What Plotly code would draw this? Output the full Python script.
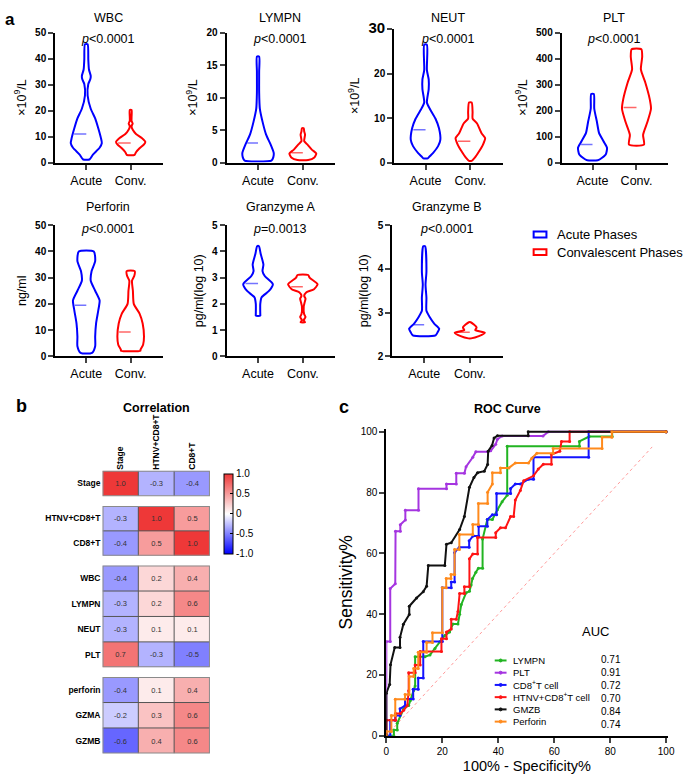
import numpy as np
import plotly.graph_objects as go

W, H = 685, 777
FONT = "Arial, Liberation Sans, sans-serif"
BLUE, RED = "#0000FF", "#FF0000"


def fx(p):
    return p / W


def fy(p):
    return 1 - p / H


# ---------------- DATA : panel a (violin profiles) -------------
GROUPS = ["Acute", "Conv."]
PANEL_TITLES = ["WBC", "LYMPN", "NEUT", "PLT", "Perforin", "Granzyme A", "Granzyme B"]
P_TEXTS = ["<0.0001", "<0.0001", "<0.0001", "<0.0001", "<0.0001", "=0.0013", "<0.0001"]
Y_UNITS = ["×10<sup>9</sup>/L"] * 4 + ["ng/ml", "pg/ml(log 10)", "pg/ml(log 10)"]
Y_TICKS = [[0, 10, 20, 30, 40, 50], [0, 5, 10, 15, 20], [0, 10, 20, 30],
           [0, 100, 200, 300, 400, 500], [0, 10, 20, 30, 40, 50],
           [0, 1, 2, 3, 4, 5], [2, 3, 4, 5]]

WBC_ACUTE_Y = [1.2, 3.1, 5.7, 7.5, 9.4, 13.2, 17, 20.7, 25.8, 30.2, 32, 33.3, 35.8, 39.6, 45.5]
WBC_ACUTE_W = [0.07, 0.15, 0.3, 0.35, 0.33, 0.27, 0.2, 0.1, 0.03, 0.045, 0.09, 0.1, 0.06, 0.045, 0.03]
WBC_CONV_Y = [3, 4, 5.5, 7, 8, 9.5, 11, 12.5, 14, 15, 16, 17.5, 20.2]
WBC_CONV_W = [0.09, 0.12, 0.2, 0.3, 0.33, 0.25, 0.12, 0.05, 0.02, 0.045, 0.02, 0.02, 0.02]
WBC_MED = [11, 7.5]

LYMPN_ACUTE_Y = [0.3, 0.8, 1.5, 2.8, 4.3, 6.3, 8.3, 10.8, 14, 16.3]
LYMPN_ACUTE_W = [0.3, 0.34, 0.35, 0.28, 0.18, 0.1, 0.04, 0.025, 0.025, 0.025]
LYMPN_CONV_Y = [0.4, 0.75, 1.4, 2.0, 2.8, 3.3, 4.3, 4.8, 5.3]
LYMPN_CONV_W = [0.12, 0.25, 0.3, 0.2, 0.1, 0.03, 0.05, 0.03, 0.02]
LYMPN_MED = [3, 1.5]

NEUT_ACUTE_Y = [0.95, 1.5, 2.2, 3.7, 5.1, 7.7, 9.9, 12, 13.5, 16.5, 18.7, 20.8, 26.5]
NEUT_ACUTE_W = [0.05, 0.1, 0.17, 0.28, 0.33, 0.3, 0.22, 0.1, 0.03, 0.07, 0.07, 0.03, 0.03]
NEUT_CONV_Y = [0.4, 1.1, 2.6, 4.0, 5.5, 6.6, 8.8, 9.9, 11.3, 13.5]
NEUT_CONV_W = [0.03, 0.1, 0.2, 0.28, 0.33, 0.25, 0.15, 0.05, 0.05, 0.03]
NEUT_MED = [7.4, 4.8]

PLT_ACUTE_Y = [9, 13, 31, 57, 82, 113, 157, 207, 264]
PLT_ACUTE_W = [0.12, 0.17, 0.3, 0.33, 0.25, 0.15, 0.1, 0.04, 0.03]
PLT_CONV_Y = [69, 107, 157, 207, 245, 308, 358, 408, 436]
PLT_CONV_W = [0.17, 0.15, 0.25, 0.33, 0.3, 0.2, 0.1, 0.13, 0.11]
PLT_MED = [70, 212]

PERF_ACUTE_Y = [1.3, 3.8, 7.5, 12.5, 17.5, 21.3, 25, 28.8, 32.5, 36.3, 40]
PERF_ACUTE_W = [0.13, 0.2, 0.2, 0.22, 0.27, 0.3, 0.2, 0.1, 0.12, 0.2, 0.17]
PERF_CONV_Y = [2.1, 2.5, 4.4, 7.5, 12.5, 16.3, 20, 25, 28.8, 30.6, 32.5]
PERF_CONV_W = [0.22, 0.22, 0.28, 0.3, 0.27, 0.2, 0.07, 0.05, 0.03, 0.08, 0.09]
PERF_MED = [19.5, 9.3]

GZMA_ACUTE_Y = [1.55, 1.6, 2.0, 2.25, 2.5, 2.75, 3.06, 3.25, 3.5, 3.9, 4.2]
GZMA_ACUTE_W = [0.05, 0.05, 0.05, 0.08, 0.25, 0.33, 0.15, 0.1, 0.12, 0.06, 0.02]
GZMA_CONV_Y = [1.3, 1.375, 1.5, 1.6, 1.9, 2.05, 2.2, 2.3, 2.44, 2.56, 2.75, 3.0, 3.1]
GZMA_CONV_W = [0.05, 0.02, 0.06, 0.03, 0.02, 0.04, 0.06, 0.03, 0.08, 0.25, 0.33, 0.15, 0.12]
GZMA_MED = [2.78, 2.65]

GZMB_ACUTE_Y = [2.48, 2.56, 2.63, 2.75, 2.9, 3.04, 3.34, 3.64, 3.94, 4.52]
GZMB_ACUTE_W = [0.25, 0.3, 0.33, 0.22, 0.12, 0.05, 0.05, 0.03, 0.05, 0.02]
GZMB_CONV_Y = [2.41, 2.46, 2.54, 2.6, 2.66, 2.78]
GZMB_CONV_W = [0.03, 0.2, 0.33, 0.12, 0.15, 0.02]
GZMB_MED = [2.72, 2.55]

PROFILES = [
    (WBC_ACUTE_Y, WBC_ACUTE_W, WBC_CONV_Y, WBC_CONV_W, WBC_MED),
    (LYMPN_ACUTE_Y, LYMPN_ACUTE_W, LYMPN_CONV_Y, LYMPN_CONV_W, LYMPN_MED),
    (NEUT_ACUTE_Y, NEUT_ACUTE_W, NEUT_CONV_Y, NEUT_CONV_W, NEUT_MED),
    (PLT_ACUTE_Y, PLT_ACUTE_W, PLT_CONV_Y, PLT_CONV_W, PLT_MED),
    (PERF_ACUTE_Y, PERF_ACUTE_W, PERF_CONV_Y, PERF_CONV_W, PERF_MED),
    (GZMA_ACUTE_Y, GZMA_ACUTE_W, GZMA_CONV_Y, GZMA_CONV_W, GZMA_MED),
    (GZMB_ACUTE_Y, GZMB_ACUTE_W, GZMB_CONV_Y, GZMB_CONV_W, GZMB_MED),
]
LEGEND_A = ["Acute Phases", "Convalescent Phases"]

# ---------------- DATA : panel b (correlation) ----------------
CORR_COLS = ["Stage", "HTNV+CD8+T", "CD8+T"]
CORR_ROWS_1 = ["Stage"]
CORR_VALS_1 = [[1.0, -0.3, -0.4]]
CORR_ROWS_2 = ["HTNV+CD8+T", "CD8+T"]
CORR_VALS_2 = [[-0.3, 1.0, 0.5], [-0.4, 0.5, 1.0]]
CORR_ROWS_3 = ["WBC", "LYMPN", "NEUT", "PLT"]
CORR_VALS_3 = [[-0.4, 0.2, 0.4], [-0.3, 0.2, 0.6], [-0.3, 0.1, 0.1], [0.7, -0.3, -0.5]]
CORR_ROWS_4 = ["perforin", "GZMA", "GZMB"]
CORR_VALS_4 = [[-0.4, 0.1, 0.4], [-0.2, 0.3, 0.6], [-0.6, 0.4, 0.6]]

# ---------------- DATA : panel c (ROC) ----------------
ROC_NAMES = ["LYMPN", "PLT", "CD8<sup>+</sup>T cell", "HTNV+CD8<sup>+</sup>T cell", "GMZB", "Perforin"]
ROC_COLORS = ["#22B422", "#A535E0", "#1414FF", "#FF1414", "#111111", "#FF8A1C"]
AUC_VALUES = ["0.71", "0.91", "0.72", "0.70", "0.84", "0.74"]

LYMPN_FPR = [0, 2.7, 2.7, 3.9, 3.9, 6.2, 8, 8.6, 9.7, 10.3, 10.3, 13.8, 15.6, 17.4, 19.1, 20.9, 22.6, 23.8,
             25.6, 26.2, 26.8, 28.5, 29.7, 30.3, 30.8, 32, 32.9, 34.4, 34.4, 36.1, 37.9, 39.7, 41.4, 43.2,
             43.2, 69, 69, 72.5, 80.7, 80.7, 100]
LYMPN_TPR = [0, 0, 1.9, 1.9, 4.1, 8.9, 10, 11.6, 14.8, 16.4, 26, 26, 26.6, 28.7, 30.9, 33, 34.1, 36.8,
             36.8, 40, 43.2, 47, 47.5, 49.6, 51.7, 53.8, 55.1, 55.1, 64.7, 71.1, 71.1, 74.3, 77, 79.1,
             95.2, 95.2, 96.8, 98.4, 98.4, 100, 100]
PLT_FPR = [0, 0, 1.4, 1.4, 3.2, 3.3, 5, 5, 6.8, 6.8, 11.5, 11.5, 21.5, 21.5, 25, 25, 27.9, 28.5, 30.9,
           32, 36.2, 37.3, 39.1, 39.7, 41.4, 56, 57.9, 100]
PLT_TPR = [0, 31, 31, 48.4, 50, 67.3, 67.3, 69.4, 71, 74.2, 74.2, 81.2, 81.2, 82.8, 82.8, 86.3, 86.3,
           88.5, 91.6, 93.4, 93.4, 93.7, 95.9, 97.5, 98.6, 98.6, 100, 100]
CD8_FPR = [0, 1.4, 1.4, 3.2, 3.2, 4.9, 4.9, 6.7, 6.7, 9.6, 9.6, 11.4, 11.4, 13.2, 13.2, 20, 20, 23.2,
           23.2, 24.4, 24.4, 26.1, 29.6, 29.6, 31, 33, 33, 36.1, 36.1, 37.9, 39.4, 39.4, 44.4, 44.4, 46.1,
           47.9, 50.8, 52.6, 52.6, 72.3, 72.3, 100]
CD8_TPR = [0, 0, 5.1, 5.1, 6.7, 6.7, 8.9, 9.9, 12.1, 12.1, 15.3, 15.3, 19, 19, 31, 31, 48.7, 48.7,
           50.6, 50.6, 60.3, 62, 62, 64.1, 65.7, 65.7, 68.9, 68.9, 71.1, 72.7, 72.7, 79.7, 79.7, 81.3,
           82.8, 82.8, 84.4, 84.4, 91.6, 91.6, 100, 100]
HTNV_FPR = [0, 0, 3.3, 3.3, 5, 6.2, 7.5, 8, 8, 10.3, 10.3, 12.1, 12.1, 19.7, 19.7, 21.5, 21.5, 23.2,
            23.2, 25, 25.6, 26.2, 27.9, 27.9, 29.7, 29.7, 30.9, 32.6, 32.6, 39.1, 39.1, 40.8, 42.6, 44.4,
            45.5, 46.1, 47.9, 49.1, 52.6, 54.3, 56.1, 59, 59, 62, 62.6, 65.5, 65.5, 100]
HTNV_TPR = [0, 5.1, 5.1, 7.3, 7.3, 8.4, 10, 14.8, 20.7, 20.7, 23.3, 23.3, 27.7, 27.7, 31.9, 31.9, 34.1,
            35.1, 38.3, 38.3, 40.9, 46.8, 46.8, 49, 49, 58.2, 59.8, 59.8, 65.2, 65.2, 66.8, 68.4, 68.4,
            72.1, 72.1, 77.5, 80.7, 83.9, 85.5, 87.7, 89.3, 89.3, 92.5, 93.6, 96.8, 96.8, 100, 100]
GMZB_FPR = [0, 0, 1.2, 1.5, 3, 4.9, 4.9, 6.1, 8.2, 8.2, 10.8, 13.2, 14.4, 15, 20.9, 21.5, 23.2, 26.2,
            27.9, 29.7, 31.3, 32.6, 35, 36.2, 36.4, 37.8, 38.5, 39.7, 50.7, 50.7, 100]
GMZB_TPR = [0, 14, 16.9, 23.4, 29, 29, 32.4, 36.7, 39.9, 42.6, 45.3, 47.4, 49.2, 56, 56, 63, 63.5, 67.8,
            72.1, 81.7, 84.9, 86.5, 87, 89.2, 93.6, 95.5, 97.9, 98.7, 98.7, 100, 100]
PERF_FPR = [0, 0, 1.8, 1.8, 3.2, 3.2, 6.7, 6.7, 8.2, 8.2, 9.8, 9.8, 11.4, 11.4, 14.4, 14.4, 16.5, 16.5,
            20, 20, 21.4, 21.4, 23.1, 23.1, 24.4, 24.4, 26.1, 26.1, 30.9, 30.9, 32.9, 32.9, 36.2, 36.2,
            37.9, 37.9, 40.8, 40.8, 43.8, 46.1, 50.8, 52, 53.8, 59.6, 59.6, 77.1, 77.1, 80.6, 80.6, 100]
PERF_TPR = [0, 1.4, 1.4, 6.7, 6.7, 12, 12, 13.6, 13.6, 19.5, 19.5, 22.1, 22.1, 27.5, 27.5, 30.7, 30.7,
            33.9, 33.9, 48.7, 48.7, 51.7, 51.7, 53, 53, 61.3, 61.3, 66.2, 66.2, 69.5, 69.5, 76.4, 76.4,
            80.1, 82.8, 86.5, 86.5, 88.1, 88.1, 89.7, 89.7, 91.3, 92.9, 92.9, 94.5, 94.5, 98.2, 98.2, 100, 100]
ROC_FPR = [LYMPN_FPR, PLT_FPR, CD8_FPR, HTNV_FPR, GMZB_FPR, PERF_FPR]
ROC_TPR = [LYMPN_TPR, PLT_TPR, CD8_TPR, HTNV_TPR, GMZB_TPR, PERF_TPR]
REF_LINE = [0, 95]

# ---------------- FIGURE ----------------
fig = go.Figure()
layout = dict(width=W, height=H, margin=dict(l=0, r=0, t=0, b=0), autosize=False,
              paper_bgcolor="white", plot_bgcolor="white", showlegend=False,
              font=dict(family=FONT, color="black"))
annotations, shapes = [], []


def ax(i):
    return ("xaxis", "yaxis") if i == 1 else (f"xaxis{i}", f"yaxis{i}")


def ref(i):
    return ("x", "y") if i == 1 else (f"x{i}", f"y{i}")


# violin panel geometry (pixels: x-left, x-right, y-bottom, y-top)
VPOS = [(53, 162, 155, 22), (227, 337, 155, 22), (397, 507, 155, 18.5), (567, 675, 155, 22),
        (53, 162, 353, 219), (227, 337, 353, 219), (395, 507, 353, 219)]
TITLE_Y = [7, 7, 7, 7, 200, 200, 200]
P_Y = [28.5, 28.5, 28.5, 28.5, 223, 223, 223]

for k in range(7):
    i = k + 1
    xa, ya = ax(i)
    xr, yr = ref(i)
    x0, x1, yb, yt = VPOS[k]
    ticks = Y_TICKS[k]
    ticktext = [str(t) for t in ticks]
    if k == 2:
        ticktext[-1] = '<span style="font-size:15px">30</span>'
    layout[xa] = dict(domain=[fx(x0), fx(x1)], range=[-0.7, 1.72], anchor=yr,
                      tickvals=[0, 1], ticktext=GROUPS, ticks="outside", ticklen=5, tickwidth=2,
                      showline=True, linewidth=2, linecolor="black", showgrid=False, zeroline=False,
                      tickfont=dict(size=12.5, family=FONT))
    layout[ya] = dict(domain=[fy(yb), fy(yt)], range=[ticks[0], ticks[-1]], anchor=xr,
                      tickvals=ticks, ticktext=ticktext, ticks="outside", ticklen=5, tickwidth=2,
                      showline=True, linewidth=2, linecolor="black", showgrid=False, zeroline=False,
                      tickfont=dict(size=10, family=FONT, weight="bold"),
                      title=dict(text=Y_UNITS[k], font=dict(size=12.5, family=FONT), standoff=6))
    ay, aw, cy, cw, med = PROFILES[k]
    for c, (ys, ws, col) in enumerate([(ay, aw, BLUE), (cy, cw, RED)]):
        xs_r = [c + w for w in ws]
        xs_l = [c - w for w in ws][::-1]
        fig.add_trace(go.Scatter(x=xs_r + xs_l + [xs_r[0]], y=list(ys) + list(ys)[::-1] + [ys[0]],
                                 mode="lines", fill="toself", fillcolor="white",
                                 line=dict(color=col, width=2, shape="spline", smoothing=0.6),
                                 xaxis=xr, yaxis=yr, hoverinfo="skip"))
        wm = float(np.interp(med[c], ys, ws))
        fig.add_trace(go.Scatter(x=[c - wm * 0.9, c], y=[med[c], med[c]], mode="lines",
                                 line=dict(color="rgba(0,0,255,0.55)" if c == 0 else "rgba(255,0,0,0.6)",
                                           width=1.5), xaxis=xr, yaxis=yr, hoverinfo="skip"))
    annotations.append(dict(x=0.5, xref=xr, y=fy(TITLE_Y[k]), yref="paper", text=PANEL_TITLES[k],
                            showarrow=False, font=dict(size=12.5), xanchor="center", yanchor="middle"))
    annotations.append(dict(x=0.5, xref=xr, y=fy(P_Y[k]), yref="paper",
                            text="<i>p</i>" + P_TEXTS[k].replace("<", "&lt;"),
                            showarrow=False, font=dict(size=12.5), xanchor="center", yanchor="middle"))

# violin legend
for j, (name, col) in enumerate(zip(LEGEND_A, [BLUE, RED])):
    cyp = 228.5 + j * 18
    shapes.append(dict(type="rect", xref="paper", yref="paper", x0=fx(538.5), x1=fx(551.5),
                       y0=fy(cyp + 3), y1=fy(cyp - 3), line=dict(color=col, width=2), fillcolor="white"))
    annotations.append(dict(x=fx(560), y=fy(cyp), xref="paper", yref="paper", text=name,
                            showarrow=False, xanchor="left", yanchor="middle", font=dict(size=13)))

# ---------------- heatmap ----------------
HM_X = (101, 210)
HM_GROUPS = [(CORR_ROWS_1, CORR_VALS_1, 470, 496), (CORR_ROWS_2, CORR_VALS_2, 506, 557),
             (CORR_ROWS_3, CORR_VALS_3, 567, 671), (CORR_ROWS_4, CORR_VALS_4, 681, 759)]
for g, (rows, vals, ytop, ybot) in enumerate(HM_GROUPS):
    i = 8 + g
    xa, ya = ax(i)
    xr, yr = ref(i)
    layout[xa] = dict(domain=[fx(HM_X[0]), fx(HM_X[1])], anchor=yr, range=[-0.5, 2.5],
                      side="top", tickangle=-90, showticklabels=(g == 0), ticks="",
                      showline=False, showgrid=False, zeroline=False, type="category",
                      tickfont=dict(size=8.5, weight="bold"))
    layout[ya] = dict(domain=[fy(ybot), fy(ytop)], anchor=xr, range=[len(rows) - 0.5, -0.5],
                      ticks="", showline=False, showgrid=False, zeroline=False, type="category",
                      tickfont=dict(size=8.5, weight="bold"), ticklabelstandoff=1)
    fig.add_trace(go.Heatmap(z=vals, x=CORR_COLS, y=rows, coloraxis="coloraxis",
                             texttemplate="%{z:.1f}", textfont=dict(size=7.5, color="#333"),
                             xaxis=xr, yaxis=yr, hoverinfo="skip"))
    n = len(rows)
    for v in [0.5, 1.5]:
        shapes.append(dict(type="line", xref=xr, yref=yr, x0=v, x1=v, y0=-0.5, y1=n - 0.5,
                           line=dict(color="#555", width=1)))
    for h in range(n - 1):
        shapes.append(dict(type="line", xref=xr, yref=yr, x0=-0.5, x1=2.5, y0=h + 0.5, y1=h + 0.5,
                           line=dict(color="#555", width=1)))
    shapes.append(dict(type="rect", xref=xr, yref=yr, x0=-0.5, x1=2.5, y0=-0.5, y1=n - 0.5,
                       line=dict(color="#8a8a8a", width=2)))

layout["coloraxis"] = dict(
    colorscale=[[0, "#0000FF"], [0.5, "#FFFFFF"], [1, "#EE3838"]], cmin=-1, cmax=1,
    colorbar=dict(x=fx(224), xanchor="left", y=fy(473), yanchor="top", len=80, lenmode="pixels",
                  thickness=9, thicknessmode="pixels", outlinewidth=1, outlinecolor="black",
                  tickvals=[-1, -0.5, 0, 0.5, 1], ticktext=["-1.0", "-0.5", "0", "0.5", "1.0"],
                  ticks="inside", ticklen=3, tickcolor="black", tickfont=dict(size=10),
                  xpad=0, ypad=0))

# ---------------- ROC ----------------
xa, ya = ax(12)
xr, yr = ref(12)
layout[xa] = dict(domain=[fx(389), fx(674.4)], range=[0, 100.5], anchor=yr,
                  tickvals=[0, 20, 40, 60, 80, 100], ticks="outside", ticklen=5, tickwidth=2,
                  showline=True, linewidth=2, linecolor="black", showgrid=False, zeroline=False,
                  tickfont=dict(size=10),
                  title=dict(text="100% - Specificity%", font=dict(size=14.5), standoff=5))
layout[ya] = dict(domain=[fy(741), fy(427)], range=[0, 101], anchor=xr,
                  tickvals=[0, 20, 40, 60, 80, 100], ticks="outside", ticklen=5, tickwidth=2,
                  showline=True, linewidth=2, linecolor="black", showgrid=False, zeroline=False,
                  tickfont=dict(size=10),
                  title=dict(text="Sensitivity%", font=dict(size=17.5), standoff=4))
fig.add_trace(go.Scatter(x=REF_LINE, y=REF_LINE, mode="lines",
                         line=dict(color="#FF9A9A", width=1, dash="dot"), xaxis=xr, yaxis=yr))
for fpr, tpr, col in zip(ROC_FPR, ROC_TPR, ROC_COLORS):
    fig.add_trace(go.Scatter(x=fpr, y=tpr, mode="lines+markers", line=dict(color=col, width=2),
                             marker=dict(size=3, color=col), xaxis=xr, yaxis=yr, hoverinfo="skip"))

annotations.append(dict(x=fx(617), y=fy(644), xref="paper", yref="paper", text="AUC",
                        showarrow=False, font=dict(size=13)))
for j, (name, col, auc) in enumerate(zip(ROC_NAMES, ROC_COLORS, AUC_VALUES)):
    ly = 664 + j * 12.5
    shapes.append(dict(type="line", xref="paper", yref="paper", x0=fx(499), x1=fx(511),
                       y0=fy(ly), y1=fy(ly), line=dict(color=col, width=2)))
    shapes.append(dict(type="circle", xref="paper", yref="paper", x0=fx(503.5), x1=fx(506.5),
                       y0=fy(ly + 1.5), y1=fy(ly - 1.5), line=dict(color=col, width=1), fillcolor=col))
    annotations.append(dict(x=fx(516), y=fy(ly), xref="paper", yref="paper", text=name,
                            showarrow=False, xanchor="left", yanchor="middle", font=dict(size=9.5)))
    annotations.append(dict(x=fx(617), y=fy(663.5 + j * 13.2), xref="paper", yref="paper", text=auc,
                            showarrow=False, xanchor="center", yanchor="middle", font=dict(size=10)))

# titles and panel letters
annotations += [
    dict(x=fx(0), y=fy(9), xref="paper", yref="paper", text="<b>a</b>", showarrow=False,
         xanchor="left", yanchor="middle", font=dict(size=17)),
    dict(x=fx(11), y=fy(404), xref="paper", yref="paper", text="<b>b</b>", showarrow=False,
         xanchor="left", yanchor="middle", font=dict(size=18)),
    dict(x=fx(339), y=fy(405), xref="paper", yref="paper", text="<b>c</b>", showarrow=False,
         xanchor="left", yanchor="middle", font=dict(size=18)),
    dict(x=fx(156), y=fy(406), xref="paper", yref="paper", text="<b>Correlation</b>", showarrow=False,
         xanchor="center", yanchor="middle", font=dict(size=12.5)),
    dict(x=fx(512), y=fy(407), xref="paper", yref="paper", text="<b>ROC Curve</b>", showarrow=False,
         xanchor="center", yanchor="middle", font=dict(size=12.5)),
]

layout["annotations"] = annotations
layout["shapes"] = shapes
fig.update_layout(**layout)
fig.write_html("out.html", config={"displayModeBar": False},
               post_script="document.body.style.margin='0px';")
